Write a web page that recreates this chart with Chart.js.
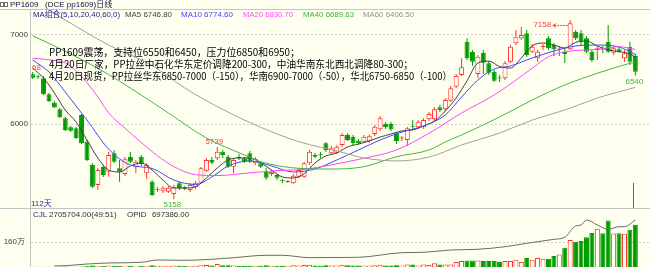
<!DOCTYPE html>
<html>
<head>
<meta charset="utf-8">
<script src="https://cdn.jsdelivr.net/npm/chart.js@4.4.0/dist/chart.umd.min.js"></script>
<style>
html, body { margin: 0; padding: 0; background: #fffff0; }
#wrap { position: relative; width: 650px; height: 267px; overflow: hidden; background: #fffff0; }
#price { position: absolute; left: 0; top: 0; }
#vol { position: absolute; left: 0; top: 209px; }
</style>
</head>
<body>
<div id="wrap">
  <canvas id="price" width="650" height="209"></canvas>
  <canvas id="vol" width="650" height="58"></canvas>
</div>
<script>
// Daily candles, PP1609
const opens = [6553,6525,6508,6329,6235,6161,6061,5960,5949,6098, 5799,5538,5315,5519,5463,5669,5501,5438,5631,5519,
  5631,5445,5351,5255,5251,5240,5214,5334,5289,5259, 5289,5340,5475,5594,5613,5687,5631,5519,5631,5613,
  5669,5557,5557,5463,5438,5426,5362,5348,5334,5407, 5407,5557,5650,5653,5781,5669,5676,5762,5874,5855,
  5810,5799,5805,5885,5938,5997,5997,5893,5834,5818, 5970,5960,5960,6049,6049,6184,6161,6258,6414,6545,
  6918,6806,6556,6794,6676,6582,6511,6508,6694,6900, 6956,7011,6806,6732,6858,6956,6881,6830,6806,6833,
  7029,7011,6956,6806,6825,6836,6918,6794,6833,6732, 6862,6758];
const highs = [6579,6545,6534,6344,6254,6176,6075,5975,5963,6109, 5818,5561,5505,5538,5684,5706,5594,5628,5687,5594,
  5650,5561,5371,5292,5303,5303,5315,5348,5303,5337, 5359,5516,5617,5628,5739,5706,5650,5617,5661,5628,
  5695,5628,5572,5505,5482,5438,5382,5371,5438,5505, 5572,5706,5673,5684,5796,5751,5760,5896,5893,5874,
  5829,5874,5880,5986,6086,6019,6019,5907,5863,5963, 6042,6042,6064,6131,6187,6209,6288,6422,6556,6732,
  6956,6825,6769,6825,6702,6601,6545,6702,6881,7048, 7085,7048,6892,6825,6892,6981,6903,6869,6847,7158,
  7048,7048,6981,6825,6862,6869,7104,6869,6858,6825, 6918,6780];
const lows = [6500,6500,6321,6243,6176,6064,5919,5907,5829,5773, 5583,5281,5259,5404,5407,5561,5351,5415,5561,5449,
  5527,5382,5192,5236,5225,5225,5158,5259,5259,5236, 5270,5326,5460,5549,5594,5617,5505,5445,5594,5561,
  5561,5538,5505,5371,5415,5371,5337,5337,5326,5393, 5393,5538,5617,5617,5684,5661,5661,5740,5807,5762,
  5762,5784,5784,5863,5919,5941,5919,5773,5807,5751, 5930,5941,5941,6030,6030,6131,6142,6243,6400,6534,
  6713,6646,6511,6556,6545,6467,6467,6489,6679,6881, 6937,6746,6791,6690,6825,6825,6758,6758,6679,6825,
  6937,6869,6791,6690,6713,6791,6791,6769,6791,6690, 6657,6540];
const closes = [6515,6520,6329,6254,6181,6072,5930,5922,5837,5781, 5594,5296,5482,5426,5650,5575,5463,5602,5575,5575,
  5549,5538,5203,5262,5284,5284,5289,5278,5273,5315, 5340,5501,5594,5564,5687,5650,5519,5594,5613,5583,
  5575,5605,5519,5396,5463,5396,5356,5354,5419,5482, 5557,5687,5631,5647,5706,5725,5743,5874,5818,5781,
  5781,5855,5860,5967,6061,5960,5938,5807,5840,5949, 5965,6023,6042,6109,6161,6153,6265,6396,6534,6631,
  6732,6694,6750,6683,6571,6481,6505,6676,6862,6973, 6992,6769,6862,6806,6866,6844,6833,6836,6780,7123,
  6956,6918,6806,6713,6844,6830,6806,6844,6806,6788, 6694,6582];
const volumes = [15000,12000,20000,18000,15000,22000,25000,20000,18000,25000,
  70000,90000,80000,60000,95000,70000,60000,85000,60000,55000,
  60000,70000,110000,75000,80000,70000,95000,75000,60000,70000,
  75000,120000,130000,90000,200000,110000,120000,95000,80000,70000,
  85000,80000,75000,110000,80000,70000,85000,75000,110000,100000,
  130000,150000,90000,80000,120000,95000,100000,140000,110000,100000,
  90000,95000,90000,110000,150000,100000,95000,120000,90000,163000,
  163000,98000,163000,130000,248000,163000,163000,163000,313000,379000,
  424000,424000,424000,379000,379000,379000,313000,379000,379000,470000,
  313000,575000,470000,575000,535000,535000,705000,797000,1228000,1730000,
  1620000,1665000,1907000,2170000,2449000,2160000,2971000,2150000,2168000,2122000,
  2384000,2705704];

// Moving averages as [day, value], read at sample days
const ma5 = [[0,6623],[2,6511],[4,6344],[6,6153],[8,6019],[10,5818],[12,5617],[14,5482],[16,5460],[18,5527],
  [20,5560],[22,5482],[24,5370],[26,5281],[28,5281],[30,5295],[32,5393],[34,5505],[36,5594],[38,5617],
  [40,5617],[42,5561],[44,5482],[46,5404],[48,5393],[50,5440],[52,5561],[54,5639],[56,5673],[58,5740],
  [60,5773],[62,5807],[64,5851],[66,5885],[68,5919],[70,5930],[72,5975],[74,6030],[76,6142],[78,6288],
  [80,6480],[82,6679],[84,6700],[86,6640],[88,6623],[90,6735],[92,6870],[94,6903],[96,6881],[98,6847],
  [100,6910],[102,6925],[104,6869],[106,6825],[108,6808],[110,6780],[111,6746.8]];
const ma10 = [[0,6713],[3,6579],[6,6355],[8,6198],[10,6042],[14,5715],[18,5538],[22,5500],[26,5370],[30,5320],
  [33,5404],[36,5527],[40,5583],[44,5527],[48,5460],[52,5494],[56,5594],[60,5706],[64,5818],[68,5907],
  [72,5975],[76,6098],[79,6299],[82,6489],[85,6612],[88,6646],[92,6735],[96,6813],[100,6869],[104,6880],
  [108,6858],[111,6774.6]];
const ma20 = [[0,6732],[3,6715],[6,6680],[8,6590],[10,6460],[12,6300],[14,6120],[17,5950],[20,5790],[23,5640],
  [26,5520],[30,5430],[34,5420],[40,5450],[45,5475],[50,5490],[55,5540],[61,5613],[67,5706],[73,5893],
  [79,6120],[85,6321],[92,6620],[95,6749],[98,6805],[104,6832],[108,6861],[111,6830.7]];
const ma40 = [[0,6984],[3,6899],[12,6620],[20,6321],[25,6120],[32,5840],[39,5650],[42,5575],[49,5501],[55,5493],
  [61,5519],[67,5631],[73,5706],[76,5796],[79,5874],[86,6075],[92,6265],[98,6433],[104,6564],[110,6676],
  [111,6689.63]];
const ma60 = [[0,7380],[6,7160],[14,6880],[22,6650],[28,6400],[35,6160],[42,5960],[49,5800],[57,5680],[61,5617],
  [67,5584],[73,5627],[79,5762],[86,5896],[92,6041],[98,6153],[104,6287],[111,6406.5]];
// Open interest (OPID) as [day, value]
const openInterest = [[4,14800],[6,19300],[10,44500],[14,59400],[20,69700],[23,103900],[28,99400],[33,114300],
  [37,138000],[43,173600],[46,173600],[51,138000],[55,141000],[60,143900],[68,212200],[72,218100],[77,252200],
  [82,262600],[87,301200],[91,351700],[96,411000],[98,440700],[100,608400],[101,623200],[102,697000],
  [104,623200],[106,559400],[108,598000],[109,598000],[111,697386]];

const priceTicks = [6000, 7000];
const volTicks = [1600000];
const notes = [
  'PP1609震荡，支持位6550和6450，压力位6850和6950；',
  '4月20日厂家，PP拉丝中石化华东定价调降200-300，中油华南东北西北调降80-300；',
  '4月20日现货，PP拉丝华东6850-7000（-150），华南6900-7000（-50），华北6750-6850（-100）'
];

const BG = '#fffff0';
const RED = '#ff3232';
const GREEN = '#009c00';
const SMALL = '8px "Liberation Sans", "Noto Sans CJK SC"';
const NOTE_FONT = '10px "Noto Sans CJK SC"';

const isUp = i => closes[i] >= opens[i];
const isFlat = i => Math.abs(closes[i] - opens[i]) < 12;

// x runs in day units so the first candle sits just right of the axis
const xAxis = { type: 'linear', min: -0.31, max: 113.7, offset: false, display: false };

function fixedWidth(w) {
  return function (scale) {
    scale.width = w;
    scale.paddingTop = 0;
    scale.paddingBottom = 0;
  };
}

function hline(ctx, x1, y1, x2, y2) {
  ctx.beginPath();
  ctx.moveTo(x1, y1);
  ctx.lineTo(x2, y2);
  ctx.stroke();
}

function text(ctx, s, x, y, color, font, align, maxW) {
  ctx.fillStyle = color;
  ctx.font = font;
  ctx.textAlign = align || 'left';
  ctx.textBaseline = 'middle';
  if (maxW) ctx.fillText(s, x, y, maxW);
  else ctx.fillText(s, x, y);
}

const last = arr => arr[arr.length - 1][1];

const priceDecor = {
  id: 'priceDecor',
  beforeDatasetsDraw(chart) {
    const { ctx, chartArea: a, scales: { y } } = chart;
    ctx.save();
    ctx.lineWidth = 1;
    ctx.strokeStyle = '#c4c4c4';
    hline(ctx, 0, 9.5, 650, 9.5);
    hline(ctx, 30.5, a.top, 30.5, a.bottom);
    hline(ctx, 0, a.bottom - 0.5, 650, a.bottom - 0.5);
    ctx.setLineDash([2, 2]);
    ctx.strokeStyle = '#cfcfcf';
    priceTicks.forEach(v => {
      const py = Math.round(y.getPixelForValue(v)) + 0.5;
      hline(ctx, a.left, py, a.right, py);
    });
    ctx.restore();
  },
  afterDatasetsDraw(chart) {
    const { ctx, chartArea: a, scales: { x, y } } = chart;
    ctx.save();

    // title row
    ctx.strokeStyle = '#707070';
    ctx.lineWidth = 1;
    ctx.strokeRect(0.5, 2.5, 3, 4);
    ctx.strokeRect(4.5, 2.5, 3, 4);
    text(ctx, 'PP1609', 10, 5, '#101040', SMALL);
    text(ctx, '(DCE pp1609)日线', 45, 5, '#101040', SMALL);

    // MA legend
    text(ctx, 'MA组合(5,10,20,40,60,0)', 33, 15, '#1c1c8c', SMALL, 'left', 87);
    text(ctx, 'MA5 ' + last(ma5).toFixed(2), 125, 15, '#404040', SMALL, 'left', 47);
    text(ctx, 'MA10 ' + last(ma10).toFixed(2), 181, 15, '#4646ff', SMALL, 'left', 52);
    text(ctx, 'MA20 ' + last(ma20).toFixed(2), 243, 15, '#ff46ff', SMALL, 'left', 50);
    text(ctx, 'MA40 ' + last(ma40).toFixed(2), 303, 15, '#3cb43c', SMALL, 'left', 51);
    text(ctx, 'MA60 ' + last(ma60).toFixed(2), 363, 15, '#909090', SMALL, 'left', 51);

    // commentary
    const widths = [251, 364, 403];
    notes.forEach((s, k) => text(ctx, s, 49, 52 + k * 12, '#000000', NOTE_FONT, 'left', widths[k]));

    // highest high with arrow
    const hi = Math.max(...highs);
    const hiI = highs.indexOf(hi);
    const hx = x.getPixelForValue(hiI);
    const hy = y.getPixelForValue(hi) + 5;
    text(ctx, String(hi), hx - 19, hy, '#ff4040', SMALL, 'right');
    ctx.strokeStyle = '#ff4040';
    ctx.setLineDash([2, 1]);
    hline(ctx, hx - 16, Math.round(hy) + 0.5, hx - 1, Math.round(hy) + 0.5);
    ctx.setLineDash([]);
    ctx.beginPath();
    ctx.moveTo(hx - 14, Math.round(hy) - 1.5);
    ctx.lineTo(hx - 17.5, Math.round(hy) + 0.5);
    ctx.lineTo(hx - 14, Math.round(hy) + 2.5);
    ctx.stroke();

    // local high and lows
    text(ctx, String(highs[34]), x.getPixelForValue(34) - 3, y.getPixelForValue(highs[34]) - 5, '#ff4040', SMALL, 'center');
    const lo = Math.min(...lows);
    const loI = lows.indexOf(lo);
    text(ctx, String(lo), x.getPixelForValue(loI) - 1.5, y.getPixelForValue(lo) + 6, '#46b446', SMALL, 'center');
    const lastI = lows.length - 1;
    text(ctx, String(lows[lastI]), x.getPixelForValue(lastI) - 1, y.getPixelForValue(lows[lastI]) + 6, '#46b446', SMALL, 'center');
    text(ctx, '68', 32, 68, '#ff4040', SMALL);

    // day count and cursor
    text(ctx, '112天', 31, 204, '#2a2aa0', SMALL);
    ctx.strokeStyle = '#5a5ab4';
    const cx = Math.round(x.getPixelForValue(lastI)) - 1.5;
    hline(ctx, cx, 183, cx, a.bottom - 1);
    ctx.restore();
  }
};

const volDecor = {
  id: 'volDecor',
  beforeDatasetsDraw(chart) {
    const { ctx, chartArea: a, scales: { x, y } } = chart;
    ctx.save();
    ctx.lineWidth = 1;
    ctx.strokeStyle = '#c4c4c4';
    hline(ctx, 30.5, a.top, 30.5, a.bottom);
    ctx.setLineDash([2, 2]);
    ctx.strokeStyle = '#cfcfcf';
    volTicks.forEach(v => {
      const py = Math.round(y.getPixelForValue(v)) + 0.5;
      hline(ctx, a.left, py, a.right, py);
    });
    ctx.setLineDash([]);
    ctx.strokeStyle = '#5a5ab4';
    const cx = Math.round(x.getPixelForValue(volumes.length - 1)) - 1.5;
    hline(ctx, cx, 49, cx, a.bottom);
    ctx.restore();
  },
  afterDraw(chart) {
    const { ctx } = chart;
    ctx.save();
    text(ctx, 'CJL', 33, 6, '#1c1c8c', SMALL);
    text(ctx, volumes[volumes.length - 1].toFixed(2) + '(49:51)', 49, 6, '#303030', SMALL, 'left', 69);
    text(ctx, 'OPID', 127, 6, '#303030', SMALL);
    text(ctx, last(openInterest).toFixed(2), 152, 6, '#303030', SMALL, 'left', 37);
    ctx.restore();
  }
};

const maLine = (pts, color) => ({
  type: 'line',
  data: pts.map(([i, v]) => ({ x: i, y: v })),
  borderColor: color,
  borderWidth: 1,
  pointRadius: 0,
  cubicInterpolationMode: 'monotone',
  order: 0
});

const days = closes.map((c, i) => i);

new Chart(document.getElementById('price'), {
  type: 'bar',
  data: {
    datasets: [
      {
        label: 'wick',
        data: days.map(i => ({ x: i, y: [lows[i], highs[i]] })),
        backgroundColor: days.map(i => isUp(i) ? RED : GREEN),
        borderWidth: 0,
        barThickness: 1,
        inflateAmount: 0,
        grouped: false,
        order: 2
      },
      {
        label: 'body',
        data: days.map(i => ({ x: i, y: [opens[i], closes[i]] })),
        backgroundColor: days.map(i => isUp(i) ? (isFlat(i) ? RED : BG) : GREEN),
        borderColor: days.map(i => isUp(i) ? RED : GREEN),
        borderWidth: 1,
        borderSkipped: false,
        barThickness: 5,
        minBarLength: 1,
        inflateAmount: 0,
        grouped: false,
        order: 1
      },
      maLine(ma60, '#a0a0a0'),
      maLine(ma40, '#46b446'),
      maLine(ma20, '#ff46ff'),
      maLine(ma10, '#4646ff'),
      maLine(ma5, '#404040')
    ]
  },
  options: {
    responsive: false,
    animation: false,
    devicePixelRatio: 1,
    events: [],
    layout: { padding: { top: 10, left: 0, right: 0, bottom: 0 } },
    plugins: { legend: { display: false }, tooltip: { enabled: false } },
    scales: {
      x: xAxis,
      y: {
        type: 'linear',
        position: 'left',
        min: 5046,
        max: 7272,
        afterFit: fixedWidth(31),
        afterBuildTicks: s => { s.ticks = priceTicks.map(v => ({ value: v })); },
        grid: { display: false, drawTicks: false },
        border: { display: false },
        ticks: { padding: 3, color: '#404040', font: { family: 'Liberation Sans', size: 8 }, callback: v => String(v) }
      }
    }
  },
  plugins: [priceDecor]
});

new Chart(document.getElementById('vol'), {
  type: 'bar',
  data: {
    datasets: [
      {
        label: 'CJL',
        data: days.map(i => ({ x: i, y: volumes[i] })),
        backgroundColor: days.map(i => isUp(i) ? BG : GREEN),
        borderColor: days.map(i => isUp(i) ? RED : GREEN),
        borderWidth: 1,
        barThickness: 5,
        inflateAmount: 0,
        order: 1
      },
      {
        type: 'line',
        label: 'OPID',
        data: openInterest.map(([i, v]) => ({ x: i, y: v })),
        yAxisID: 'yo',
        borderColor: '#6a6a6a',
        borderWidth: 1,
        pointRadius: 0,
        cubicInterpolationMode: 'monotone',
        order: 0
      }
    ]
  },
  options: {
    responsive: false,
    animation: false,
    devicePixelRatio: 1,
    events: [],
    layout: { padding: 0 },
    plugins: { legend: { display: false }, tooltip: { enabled: false } },
    scales: {
      x: xAxis,
      y: {
        type: 'linear',
        position: 'left',
        min: 0,
        max: 3712000,
        afterFit: fixedWidth(31),
        afterBuildTicks: s => { s.ticks = volTicks.map(v => ({ value: v })); },
        grid: { display: false, drawTicks: false },
        border: { display: false },
        ticks: { padding: 6, color: '#404040', font: { family: 'Liberation Sans', size: 8 }, callback: v => (v / 10000) + '万' }
      },
      yo: { type: 'linear', display: false, min: 0, max: 860600 }
    }
  },
  plugins: [volDecor]
});
</script>
</body>
</html>
